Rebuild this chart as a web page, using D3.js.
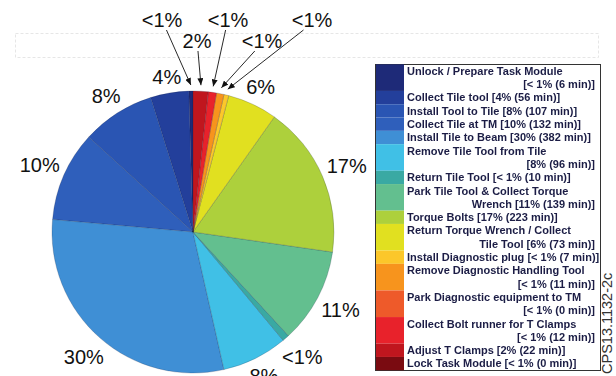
<!DOCTYPE html>
<html>
<head>
<meta charset="utf-8">
<script src="https://cdn.jsdelivr.net/npm/d3@7"></script>
<style>
  html, body { margin: 0; padding: 0; background: #fff; }
  svg { display: block; font-family: "Liberation Sans", Arial, Helvetica, sans-serif; }
</style>
</head>
<body>
<svg id="chart" width="616" height="376"></svg>
<script>
// Task steps, in drawing order (counter-clockwise from 12 o'clock).
// "\n" marks where the legend entry wraps onto a second line.
const categories = [
  "Unlock / Prepare Task Module\n",
  "Collect Tile tool",
  "Install Tool to Tile",
  "Collect Tile at TM",
  "Install Tile to Beam",
  "Remove Tile Tool from Tile\n",
  "Return Tile Tool",
  "Park Tile Tool & Collect Torque\nWrench",
  "Torque Bolts",
  "Return Torque Wrench / Collect\nTile Tool",
  "Install Diagnostic plug",
  "Remove Diagnostic Handling Tool\n",
  "Park Diagnostic equipment to TM\n",
  "Collect Bolt runner for T Clamps\n",
  "Adjust T Clamps",
  "Lock Task Module"
];

// Time spent on each step, minutes.
const minutes = [6, 56, 107, 132, 382, 96, 10, 139, 223, 73, 7, 11, 0, 12, 22, 0];

const colors = [
  "#1e2a78", "#233f9b", "#2a55b3", "#2f5fbb", "#3f8fd5", "#40c0e6",
  "#3aa9a3", "#63bf8f", "#add03c", "#e1e020", "#fcc72a", "#f7941d",
  "#ee5a2a", "#e8222b", "#c0161e", "#7a0b11"
];

// Anchor points for the callout labels of the thin slices near the top, left to right.
const calloutAnchors = [[162, 20], [197, 41], [228, 20], [262, 41], [312, 20]];

const figureId = "CPS13.1132-2c";

const svg = d3.select("#chart");
const W = 616, H = 376;
const cx = 193, cy = 232, r = 141;

svg.append("rect").attr("width", W).attr("height", H).attr("fill", "#fff");

// faint framed band across the top
svg.append("rect")
  .attr("x", 15.5).attr("y", 33.5).attr("width", 583).attr("height", 24)
  .attr("fill", "none").attr("stroke", "#e6e6e6").attr("stroke-width", 1)
  .attr("stroke-dasharray", "3,2");

const total = d3.sum(minutes);
const pctText = v => (v / total < 0.01 ? "<1%" : Math.round(v / total * 100) + "%");

const data = categories.map((name, i) => ({ name, value: minutes[i], color: colors[i], i }));

const pie = d3.pie().value(d => d.value).sort(null)
  .startAngle(0).endAngle(-2 * Math.PI);
const arcs = pie(data);
const arc = d3.arc().innerRadius(0).outerRadius(r);

const g = svg.append("g").attr("transform", `translate(${cx},${cy})`);

g.selectAll("path.slice")
  .data(arcs.filter(d => d.data.value > 0))
  .join("path")
  .attr("class", "slice")
  .attr("d", arc)
  .attr("fill", d => d.data.color)
  .attr("stroke", "rgba(20,30,60,0.3)")
  .attr("stroke-width", 0.7)
  .attr("stroke-linejoin", "round");

const midAngle = d => (d.startAngle + d.endAngle) / 2;
const polar = (a, R) => [Math.sin(a) * R, -Math.cos(a) * R];
const norm = a => { let b = a % (2 * Math.PI); if (b > Math.PI) b -= 2 * Math.PI; if (b <= -Math.PI) b += 2 * Math.PI; return b; };

const labelled = arcs.filter(d => d.value > 0);
const isCallout = d => d.value / total < 0.03 && Math.abs(norm(midAngle(d))) < Math.PI / 6;

// Percentage labels just outside the slices
labelled.filter(d => !isCallout(d)).forEach(d => {
  const a = midAngle(d);
  const t = g.append("text")
    .attr("font-size", 20)
    .attr("fill", "#111")
    .attr("text-anchor", "middle")
    .attr("dy", "0.36em")
    .text(pctText(d.value));
  const w = t.node().getComputedTextLength();
  const ext = Math.abs(Math.sin(a)) * w / 2 + Math.abs(Math.cos(a)) * 10;
  const [x, y] = polar(a, r + 4 + ext);
  t.attr("x", x).attr("y", y);
});

// Callouts with arrows for the thin slices at the top
const defs = svg.append("defs");
defs.append("marker")
  .attr("id", "arrow")
  .attr("viewBox", "0 0 10 10")
  .attr("refX", 10).attr("refY", 5)
  .attr("markerUnits", "userSpaceOnUse")
  .attr("markerWidth", 7).attr("markerHeight", 6)
  .attr("preserveAspectRatio", "none")
  .attr("orient", "auto")
  .append("path").attr("d", "M0,0 L10,5 L0,10 Z").attr("fill", "#111");

const small = labelled.filter(isCallout)
  .sort((p, q) => norm(midAngle(p)) - norm(midAngle(q)));

small.forEach((d, k) => {
  const [ax, ay] = calloutAnchors[k % calloutAnchors.length];
  const [tx0, ty0] = polar(midAngle(d), r + 6);
  const tx = cx + tx0, ty = cy + ty0;
  const dx = tx - ax, dy = ty - ay, len = Math.hypot(dx, dy);
  const sx = ax + dx / len * 11, sy = ay + 10;
  svg.append("line")
    .attr("x1", sx).attr("y1", sy)
    .attr("x2", tx).attr("y2", ty)
    .attr("stroke", "#111").attr("stroke-width", 0.9)
    .attr("marker-end", "url(#arrow)");
  svg.append("text")
    .attr("x", ax).attr("y", ay)
    .attr("dy", "0.36em")
    .attr("font-size", 20)
    .attr("fill", "#111")
    .attr("text-anchor", "middle")
    .text(pctText(d.value));
});

// Legend
const blur = defs.append("filter").attr("id", "soft")
  .attr("x", "-5%").attr("y", "-20%").attr("width", "110%").attr("height", "140%");
blur.append("feGaussianBlur").attr("stdDeviation", 0.4);

const lg = { x: 375.5, y: 64.5, w: 225, h: 306, sw: 28, line0: 71, lh: 13.3, tx: 407, tr: 595 };
svg.append("rect")
  .attr("x", lg.x).attr("y", lg.y).attr("width", lg.w).attr("height", lg.h)
  .attr("fill", "#fff").attr("stroke", "#333").attr("stroke-width", 1);

const pctBracket = v => (v / total < 0.01 ? "[< 1%" : "[" + Math.round(v / total * 100) + "%") + ` (${v} min)]`;

const swatches = svg.append("g");
const legendText = svg.append("g")
  .attr("font-size", 11).attr("font-weight", "bold").attr("fill", "#1b1d45")
  .attr("filter", "url(#soft)");

let lineIdx = 0;
data.forEach(d => {
  const parts = d.name.split("\n");
  const bracket = pctBracket(d.value);
  const lines = parts.length === 1
    ? [parts[0] + " " + bracket]
    : [parts[0], (parts[1] ? parts[1] + " " : "") + bracket];
  const yTop = lg.line0 + lineIdx * lg.lh - lg.lh / 2;
  swatches.append("rect")
    .attr("x", lg.x + 0.5).attr("y", yTop)
    .attr("width", lg.sw).attr("height", lines.length * lg.lh)
    .attr("fill", d.color);
  lines.forEach((txt, j) => {
    legendText.append("text")
      .attr("x", j === 0 ? lg.tx : lg.tr)
      .attr("y", lg.line0 + (lineIdx + j) * lg.lh)
      .attr("dy", "0.35em")
      .attr("text-anchor", j === 0 ? "start" : "end")
      .text(txt);
  });
  lineIdx += lines.length;
});

// Figure identifier, running up the right edge
svg.append("text")
  .attr("transform", "translate(612,374) rotate(-90)")
  .attr("font-size", 14.5)
  .attr("fill", "#333")
  .text(figureId);
</script>
</body>
</html>
